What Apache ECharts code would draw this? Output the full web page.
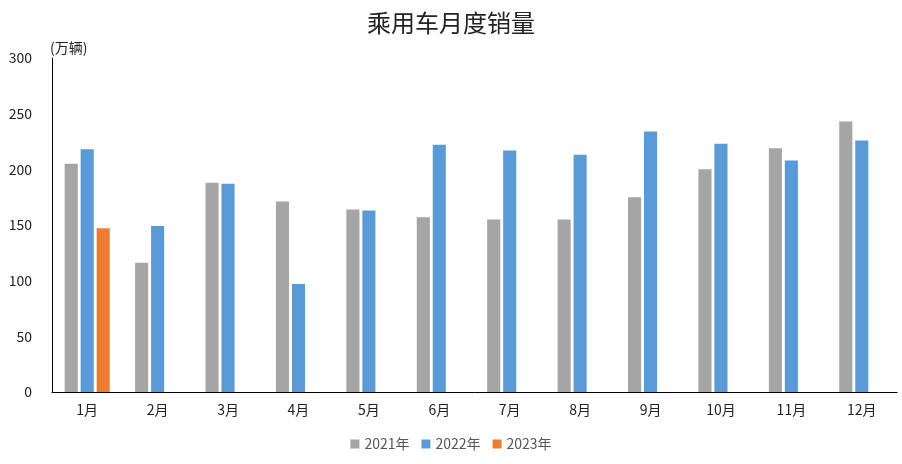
<!DOCTYPE html>
<html>
<head>
<meta charset="utf-8">
<script src="https://cdn.jsdelivr.net/npm/echarts@6/dist/echarts.min.js"></script>
<style>
    html, body { margin: 0; padding: 0; background: #fff; }
    #chart { width: 902px; height: 464px; }
</style>
</head>
<body>
<div id="chart"></div>
<script>
    // 月份
    var months = ['1月', '2月', '3月', '4月', '5月', '6月', '7月', '8月', '9月', '10月', '11月', '12月'];
    // 各年销量（万辆）
    var sales2021 = [205, 116, 188, 171, 164, 157, 155, 155, 175, 200, 219, 243];
    var sales2022 = [218, 149, 187, 97, 163, 222, 217, 213, 234, 223, 208, 226];
    var sales2023 = [147];

    var font = '"Noto Sans CJK SC", "Noto Sans", sans-serif';

    var myChart = echarts.init(document.getElementById('chart'));
    var option = {
        animation: false,
        title: {
            text: '乘用车月度销量',
            left: 'center',
            top: 6,
            textStyle: {fontFamily: font, fontSize: 24, fontWeight: 'normal', color: '#222'}
        },
        legend: {
            bottom: 8,
            left: 'center',
            itemWidth: 9,
            itemHeight: 9,
            itemGap: 12,
            icon: 'rect',
            textStyle: {fontFamily: font, fontSize: 14, color: '#555'},
            data: ['2021年', '2022年', '2023年']
        },
        grid: {left: 52, right: 5, top: 58, bottom: 72},
        xAxis: {
            type: 'category',
            data: months,
            axisLine: {lineStyle: {color: '#000', width: 1}},
            axisTick: {show: false},
            axisLabel: {fontFamily: font, fontSize: 14, color: '#222', margin: 11}
        },
        yAxis: {
            type: 'value',
            min: 0,
            max: 300,
            interval: 50,
            name: '(万辆)',
            nameGap: 3,
            nameTextStyle: {fontFamily: font, fontSize: 14, color: '#222', align: 'left', padding: [0, 0, 0, -2]},
            axisLine: {show: true, lineStyle: {color: '#000', width: 1}},
            axisTick: {show: false},
            splitLine: {show: false},
            axisLabel: {fontFamily: font, fontSize: 14, color: '#222', margin: 20}
        },
        series: [
            {name: '2021年', type: 'bar', data: sales2021, itemStyle: {color: '#A5A5A5'}, barGap: '22%', barCategoryGap: '36%'},
            {name: '2022年', type: 'bar', data: sales2022, itemStyle: {color: '#5B9BD5'}},
            {name: '2023年', type: 'bar', data: sales2023, itemStyle: {color: '#ED7D31'}}
        ]
    };
    myChart.setOption(option);
</script>
</body>
</html>
